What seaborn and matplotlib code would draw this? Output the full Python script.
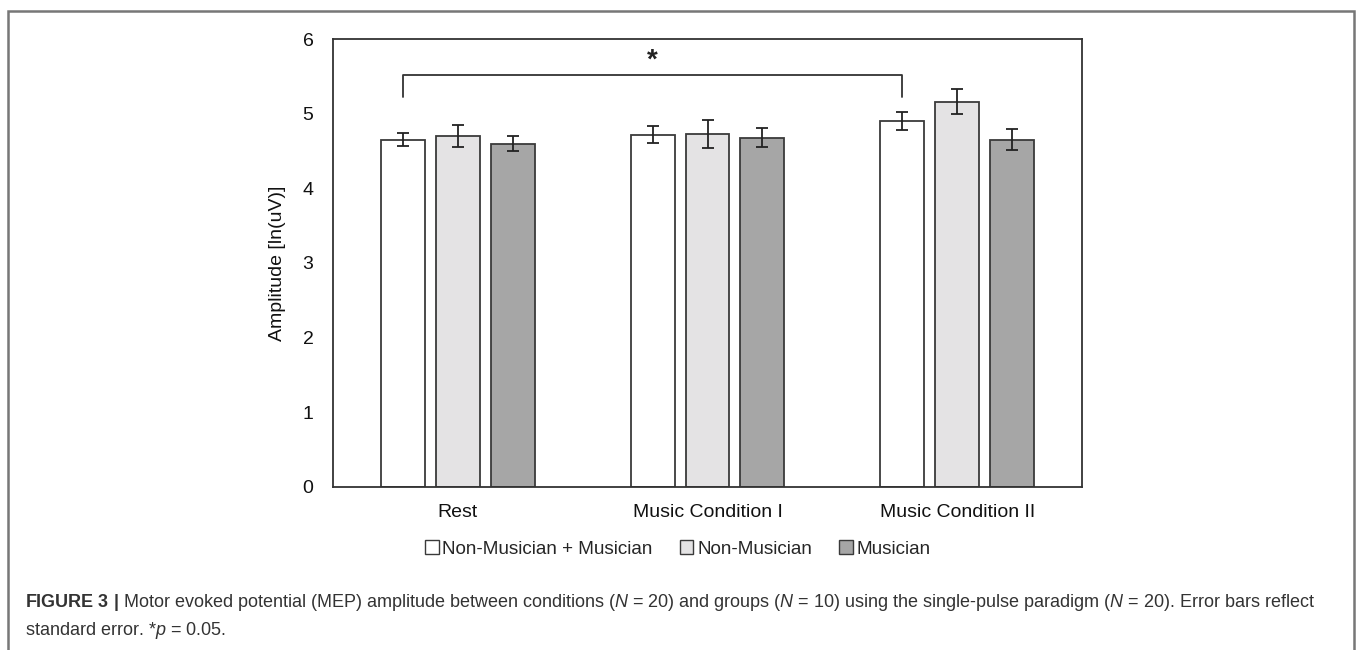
"""
MEP amplitude by condition and group (bar chart with standard error bars).
"""

import pandas as pd
import numpy as np
import matplotlib
matplotlib.use("Agg")
import matplotlib.pyplot as plt
import seaborn as sns
from matplotlib.patches import Patch, Rectangle

# data
conditions = ["Rest", "Music Condition I", "Music Condition II"]
groups = ["Non-Musician + Musician", "Non-Musician", "Musician"]
combined_mean = [4.65, 4.72, 4.90]
nonmusician_mean = [4.70, 4.73, 5.16]
musician_mean = [4.60, 4.68, 4.65]
combined_se = [0.085, 0.11, 0.12]
nonmusician_se = [0.15, 0.19, 0.17]
musician_se = [0.105, 0.13, 0.14]
yticks = [0, 1, 2, 3, 4, 5, 6]

bar_colors = ["#ffffff", "#e4e3e4", "#a6a6a6"]
edge = "#3a3a3a"

sns.set_theme(style="white")
plt.rcParams["font.family"] = ["Liberation Sans", "DejaVu Sans"]
plt.rcParams["mathtext.fontset"] = "custom"
plt.rcParams["mathtext.rm"] = "Liberation Sans"
plt.rcParams["mathtext.it"] = "Liberation Sans:italic"
plt.rcParams["mathtext.bf"] = "Liberation Sans:bold"

means = [combined_mean, nonmusician_mean, musician_mean]
ses = [combined_se, nonmusician_se, musician_se]
df = pd.DataFrame({
    "Condition": np.tile(conditions, len(groups)),
    "Group": np.repeat(groups, len(conditions)),
    "Amplitude": np.concatenate(means),
})

fig = plt.figure(figsize=(13.58, 6.5), dpi=100)
ax = fig.add_axes([0.2452, 0.2508, 0.5516, 0.6892])

sns.barplot(data=df, x="Condition", y="Amplitude", hue="Group",
            order=conditions, hue_order=groups, palette=bar_colors,
            edgecolor=edge, linewidth=1.3, width=0.66, gap=0.2,
            errorbar=None, legend=False, ax=ax)

# error bars on top of each bar
centers = []
for cont, se in zip(ax.containers, ses):
    xs = [p.get_x() + p.get_width() / 2 for p in cont.patches]
    ys = [p.get_height() for p in cont.patches]
    ax.errorbar(xs, ys, yerr=se, fmt="none", ecolor="#222222",
                elinewidth=1.3, capsize=4.5, capthick=1.3, zorder=5)
    centers.append(xs)

# significance bracket: Rest vs Music Condition II (combined group)
x0, x1 = centers[0][0], centers[0][2]
ax.plot([x0, x0, x1, x1], [5.22, 5.52, 5.52, 5.22], color="#333333", lw=1.3)
ax.text((x0 + x1) / 2, 5.71, "*", ha="center", va="center",
        fontsize=20, fontweight="bold", color="#222222")

ax.set_xlim(-0.5, 2.5)
ax.set_ylim(0, 6)
ax.set_yticks(yticks)
ax.set_xlabel("")
ax.set_ylabel("Amplitude [ln(uV)]", fontsize=14, color="#111111", labelpad=12)
ax.tick_params(axis="both", length=0, labelsize=14, colors="#111111")
ax.tick_params(axis="x", pad=12)
ax.tick_params(axis="y", pad=14)
for s in ax.spines.values():
    s.set_visible(True)
    s.set_color("#333333")
    s.set_linewidth(1.3)

handles = [Patch(facecolor=c, edgecolor=edge, linewidth=1.0) for c in bar_colors]
fig.legend(handles, groups, loc="center", bbox_to_anchor=(678 / 1358, 1 - 549 / 650),
           ncol=3, frameon=False, fontsize=13.6, handlelength=0.7,
           handleheight=0.7, handletextpad=0.2, columnspacing=1.45)

# caption and outer frame
caption = (r"$\bf{FIGURE\ 3\ |}$ Motor evoked potential (MEP) amplitude between conditions "
           r"($\it{N}$ = 20) and groups ($\it{N}$ = 10) using the single-pulse paradigm "
           r"($\it{N}$ = 20). Error bars reflect" "\n"
           r"standard error. *$\it{p}$ = 0.05.")
fig.text(25 / 1358, 1 - 592 / 650, caption, ha="left", va="top", fontsize=13,
         color="#333333", linespacing=1.45)

fig.patches.append(Rectangle((8 / 1358, -0.05), 1346 / 1358, 1.05 - 11 / 650,
                             transform=fig.transFigure, fill=False,
                             edgecolor="#777777", linewidth=1.8))

fig.savefig("out.png", dpi=100)
plt.close(fig)
